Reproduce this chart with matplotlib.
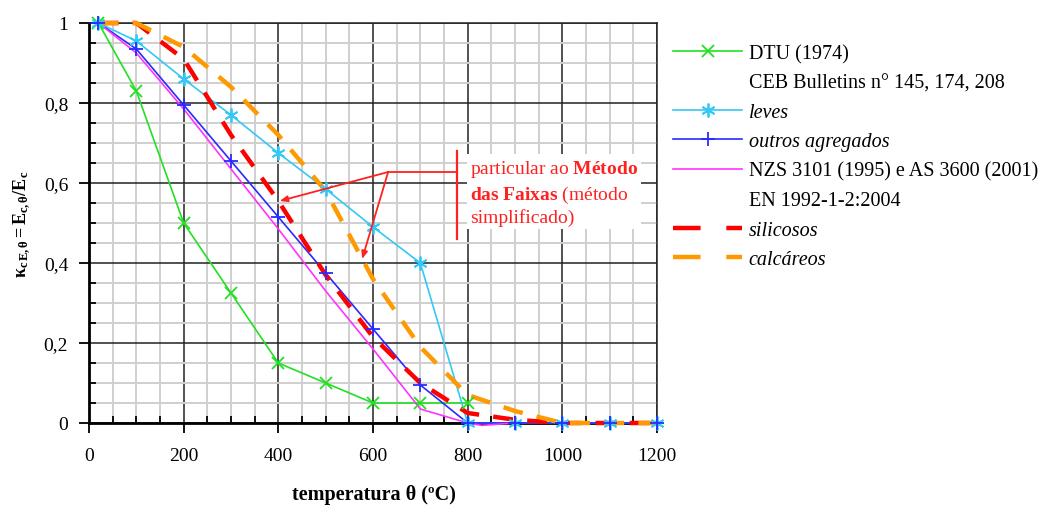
import matplotlib
matplotlib.use('Agg')
import matplotlib.pyplot as plt
from matplotlib.lines import Line2D

plt.rcParams['font.family'] = ['Liberation Serif', 'DejaVu Serif']
plt.rcParams['mathtext.fontset'] = 'custom'
plt.rcParams['mathtext.rm'] = 'Liberation Serif'
plt.rcParams['mathtext.it'] = 'Liberation Serif:italic'
plt.rcParams['mathtext.bf'] = 'Liberation Serif:bold'

# ---------------- data ----------------
dtu_t = [20, 100, 200, 300, 400, 500, 600, 700, 800]
dtu_k = [1.0, 0.83, 0.50, 0.325, 0.15, 0.10, 0.05, 0.05, 0.05]

full_t = [20, 100, 200, 300, 400, 500, 600, 700, 800, 900, 1000, 1100, 1200]
leves_k = [1.0, 0.955, 0.86, 0.77, 0.675, 0.585, 0.49, 0.40, 0.0, 0.0, 0.0, 0.0, 0.0]
outros_k = [1.0, 0.935, 0.795, 0.655, 0.515, 0.375, 0.235, 0.095, 0.0, 0.0, 0.0, 0.0, 0.0]

nzs_t = [20, 100, 200, 300, 400, 500, 600, 700, 800, 830, 900]
nzs_k = [1.0, 0.925, 0.785, 0.635, 0.485, 0.33, 0.185, 0.035, 0.0, -0.006, 0.0]

silicosos_k = [1.0, 1.0, 0.91, 0.72, 0.555, 0.37, 0.215, 0.10, 0.025, 0.008, 0.0, 0.0, 0.0]
calcareos_k = [1.0, 1.0, 0.94, 0.84, 0.72, 0.58, 0.36, 0.19, 0.07, 0.03, 0.0, 0.0, 0.0]

x_ticks = [0, 200, 400, 600, 800, 1000, 1200]
y_ticks = [0, 0.2, 0.4, 0.6, 0.8, 1.0]
y_tick_labels = ['0', '0,2', '0,4', '0,6', '0,8', '1']

legend_labels = ['DTU (1974)', 'CEB Bulletins n° 145, 174, 208', 'leves', 'outros agregados',
                 'NZS 3101 (1995) e AS 3600 (2001)', 'EN 1992-1-2:2004', 'silicosos', 'calcáreos']

# ---------------- colours ----------------
c_green = '#22e022'
c_cyan = '#33c8f5'
c_blue = '#2a2aff'
c_mag = '#ff33ff'
c_red = '#ff0000'
c_orange = '#ff9900'

W, H = 1048, 506
fig = plt.figure(figsize=(W / 100, H / 100), dpi=100)
ax = fig.add_axes([89 / W, 1 - 424 / H, (657 - 89) / W, (424 - 24) / H])

ax.set_xlim(0, 1200)
ax.set_ylim(0, 1)

# grid
ax.set_xticks(x_ticks)
ax.set_xticks(list(range(0, 1201, 50)), minor=True)
ax.set_yticks(y_ticks)
ax.set_yticks([i * 0.05 for i in range(21)], minor=True)
ax.set_yticklabels(y_tick_labels)
ax.grid(which='minor', color='#cfcfcf', lw=1.4)
ax.grid(which='major', color='#222222', lw=1.1)
ax.set_axisbelow(True)

ax.tick_params(which='major', direction='out', length=7, width=1.3, labelsize=14, colors='black')
ax.tick_params(axis='x', which='major', pad=10)
ax.tick_params(axis='y', which='major', pad=8)
ax.tick_params(which='minor', direction='in', length=5, width=1.3)
for s in ['left', 'bottom']:
    ax.spines[s].set_linewidth(2.0)
for s in ['top', 'right']:
    ax.spines[s].set_linewidth(1.1)
    ax.spines[s].set_color('#222222')

# series lines
lw_thin = 1.2
ax.plot(dtu_t, dtu_k, color=c_green, lw=lw_thin, zorder=3, clip_on=False)
ax.plot(full_t, leves_k, color=c_cyan, lw=lw_thin, zorder=3, clip_on=False)
ax.plot(full_t, outros_k, color=c_blue, lw=lw_thin, zorder=3, clip_on=False)
ax.plot(nzs_t, nzs_k, color=c_mag, lw=lw_thin, zorder=3, clip_on=False)
dash = (4.5, 3.2)
ax.plot(full_t, silicosos_k, color=c_red, lw=3.2, dashes=dash, zorder=4, clip_on=False)
ax.plot(full_t, calcareos_k, color=c_orange, lw=3.2, dashes=dash, zorder=4.5, clip_on=False)

# markers on top
ms = 10
ax.plot(dtu_t, dtu_k, ls='none', marker='x', ms=9, mew=1.3, color=c_green, zorder=6, clip_on=False)
ax.plot(full_t, leves_k, ls='none', marker=(6, 2, 0), ms=ms, mew=1.3, color=c_cyan, zorder=6, clip_on=False)
ax.plot(full_t, outros_k, ls='none', marker='+', ms=ms, mew=1.3, color=c_blue, zorder=6, clip_on=False)

# annotation
red_ann = '#ff2020'
jx, jy = 632, 0.6275
ax.plot([jx, 777], [jy, jy], color=red_ann, lw=1.3, zorder=7, clip_on=False)
ax.plot([777, 777], [0.46, 0.68], color=red_ann, lw=1.6, zorder=7, clip_on=False)
for tx, ty in [(403, 0.555), (577, 0.41)]:
    ax.annotate('', xy=(tx, ty), xytext=(jx, jy),
                arrowprops=dict(arrowstyle='-|>,head_length=0.45,head_width=0.18',
                                color=red_ann, lw=1.3, shrinkA=0, shrinkB=0),
                zorder=7)
ax.text(805, 0.662,
        'particular ao $\\mathbf{Método}$\n$\\mathbf{das\\ Faixas}$ (método\nsimplificado)',
        color=red_ann, fontsize=14, ha='left', va='top', linespacing=1.28,
        bbox=dict(facecolor='white', edgecolor='none', pad=2), zorder=5, clip_on=False)

# labels
fig.text(374 / W, 1 - 495 / H, 'temperatura θ (ºC)', ha='center', va='center',
         fontsize=14.5, fontweight='bold')
fig.text(22 / W, 1 - 224 / H, r'$\mathbf{\kappa_{c\,E,\theta} = E_{c,\theta}/E_c}$',
         ha='center', va='center', rotation=90, fontsize=13)

# legend
blank = Line2D([], [], ls='none', marker=None)
handles = [
    Line2D([], [], color=c_green, lw=lw_thin, marker='x', ms=9, mew=1.3),
    blank,
    Line2D([], [], color=c_cyan, lw=lw_thin, marker=(6, 2, 0), ms=ms, mew=1.3),
    Line2D([], [], color=c_blue, lw=lw_thin, marker='+', ms=ms, mew=1.3),
    Line2D([], [], color=c_mag, lw=lw_thin),
    blank,
    Line2D([], [], color=c_red, lw=3.2, dashes=(6.2, 5.8)),
    Line2D([], [], color=c_orange, lw=3.2, dashes=(6.2, 5.8)),
]
leg = fig.legend(handles, legend_labels, loc='upper left',
                 bbox_to_anchor=(673 / W, 1 - 45 / H), frameon=False,
                 fontsize=14.5, handlelength=3.45, handletextpad=0.3,
                 labelspacing=0.51, borderpad=0, borderaxespad=0, numpoints=1)
for i in (2, 3, 6, 7):
    leg.get_texts()[i].set_style('italic')

fig.savefig('out.png', dpi=100)
